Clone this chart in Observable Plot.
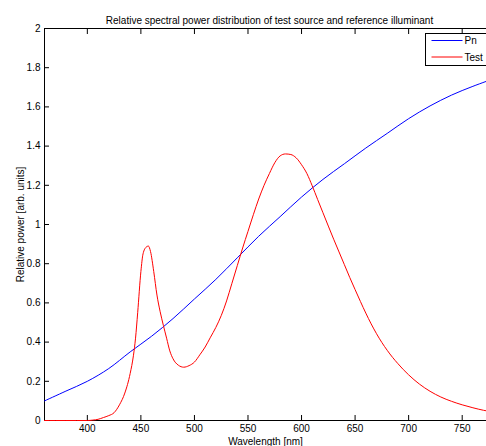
<!DOCTYPE html>
<html>
<head>
<meta charset="utf-8">
<script src="https://cdn.jsdelivr.net/npm/d3@7"></script>
<script src="https://cdn.jsdelivr.net/npm/@observablehq/plot@0.6"></script>
<style>
  html, body { margin: 0; padding: 0; background: white; overflow: hidden; }
</style>
</head>
<body>
<div id="chart"></div>
<script>
// ---- data ----
const titleText = "Relative spectral power distribution of test source and reference illuminant";
const xLabel = "Wavelength [nm]";
const yLabel = "Relative power [arb. units]";
const seriesNames = ["Pn", "Test"];
const seriesColors = ["#0000ff", "#ff0000"];

const xTicks = [400, 450, 500, 550, 600, 650, 700, 750];
const yTicks = [0, 0.2, 0.4, 0.6, 0.8, 1, 1.2, 1.4, 1.6, 1.8, 2];
const yTickLabels = ["0", "0.2", "0.4", "0.6", "0.8", "1", "1.2", "1.4", "1.6", "1.8", "2"];
const xDomain = [360, 772.7];
const yDomain = [0, 2];

const pnWavelengths = [360, 380, 400, 420, 440, 460, 480, 500, 520, 540, 560, 580, 600, 620, 640, 660, 680, 700, 720, 740, 760, 780];
const pnValues = [0.10, 0.15, 0.20, 0.265, 0.35, 0.43, 0.52, 0.62, 0.72, 0.83, 0.94, 1.04, 1.14, 1.23, 1.31, 1.39, 1.465, 1.54, 1.605, 1.66, 1.705, 1.745];

const testWavelengths = [360, 370, 380, 390, 400, 405, 410, 415, 420, 425, 430, 435, 440, 443, 445, 447, 450, 452, 455, 457, 459, 462, 465, 468, 471, 474, 477, 480, 485, 490, 495, 500, 505, 510, 515, 520, 525, 530, 535, 540, 545, 550, 555, 560, 565, 570, 575, 580, 585, 590, 595, 600, 605, 610, 615, 620, 625, 630, 635, 640, 645, 650, 655, 660, 665, 670, 675, 680, 685, 690, 695, 700, 710, 720, 730, 740, 750, 760, 770, 780];
const testValues = [0, 0, 0, 0, 0, 0.002, 0.006, 0.015, 0.025, 0.04, 0.08, 0.14, 0.24, 0.33, 0.42, 0.55, 0.76, 0.85, 0.885, 0.89, 0.862, 0.76, 0.64, 0.555, 0.485, 0.42, 0.355, 0.315, 0.282, 0.272, 0.28, 0.298, 0.335, 0.375, 0.425, 0.475, 0.535, 0.61, 0.70, 0.79, 0.88, 0.965, 1.05, 1.13, 1.20, 1.26, 1.315, 1.35, 1.36, 1.357, 1.34, 1.305, 1.26, 1.197, 1.128, 1.06, 0.992, 0.925, 0.86, 0.795, 0.73, 0.668, 0.607, 0.548, 0.493, 0.443, 0.398, 0.358, 0.322, 0.29, 0.26, 0.233, 0.186, 0.149, 0.12, 0.098, 0.08, 0.065, 0.052, 0.043];

// ---- build tables ----
const pn = pnWavelengths.map((w, i) => ({wl: w, v: pnValues[i]}));
const test = testWavelengths.map((w, i) => ({wl: w, v: testValues[i]}));

const chart = Plot.plot({
  width: 486,
  height: 446,
  marginLeft: 44,
  marginRight: 0,
  marginTop: 28,
  marginBottom: 26,
  style: {fontFamily: "'Liberation Sans', Arial, sans-serif", fontSize: "10px", background: "white", color: "black"},
  x: {domain: xDomain},
  y: {domain: yDomain},
  marks: [
    Plot.ruleY([yDomain[0], yDomain[1]], {stroke: "black", strokeWidth: 1}),
    Plot.ruleX([xDomain[0]], {stroke: "black", strokeWidth: 1}),
    // inward tick marks (shifted inside the frame)
    Plot.axisX(xTicks, {anchor: "bottom", tickSize: 5, dy: -5, text: null, label: null}),
    Plot.axisX(xTicks, {anchor: "top", tickSize: 5, dy: 5, text: null, label: null}),
    Plot.axisY(yTicks, {anchor: "left", tickSize: 5, dx: 5, text: null, label: null}),
    // tick labels and axis titles
    Plot.axisX(xTicks, {anchor: "bottom", tickSize: 0, tickPadding: 4, label: xLabel, labelAnchor: "center", labelArrow: "none", labelOffset: 24}),
    Plot.axisY(yTicks, {anchor: "left", tickSize: 0, tickPadding: 4, tickFormat: (d) => yTickLabels[yTicks.indexOf(d)], label: yLabel, labelAnchor: "center", labelArrow: "none", labelOffset: 28}),
    Plot.line(pn, {x: "wl", y: "v", stroke: seriesColors[0], strokeWidth: 1, curve: "catmull-rom"}),
    Plot.line(test, {x: "wl", y: "v", stroke: seriesColors[1], strokeWidth: 1, curve: "monotone-x"}),
    Plot.text([titleText], {text: (d) => d, frameAnchor: "top", dx: 4, dy: -11.5, fontSize: 10, fill: "black"})
  ]
});

document.getElementById("chart").appendChild(chart);

// ---- legend ----
const svg = d3.select(chart);
const lg = svg.append("g").attr("class", "legend");
lg.append("rect")
  .attr("x", 425.5).attr("y", 33.5).attr("width", 80).attr("height", 32)
  .attr("fill", "white").attr("stroke", "black").attr("stroke-width", 1);
seriesNames.forEach((name, i) => {
  const y = 40.5 + i * 16.5;
  lg.append("line")
    .attr("x1", 431.5).attr("x2", 462.5).attr("y1", y).attr("y2", y)
    .attr("stroke", seriesColors[i]).attr("stroke-width", 1);
  lg.append("text")
    .attr("x", 464.5).attr("y", y).attr("dy", "0.35em")
    .attr("text-anchor", "start")
    .attr("font-size", 10).attr("fill", "black")
    .text(name);
});
</script>
</body>
</html>
